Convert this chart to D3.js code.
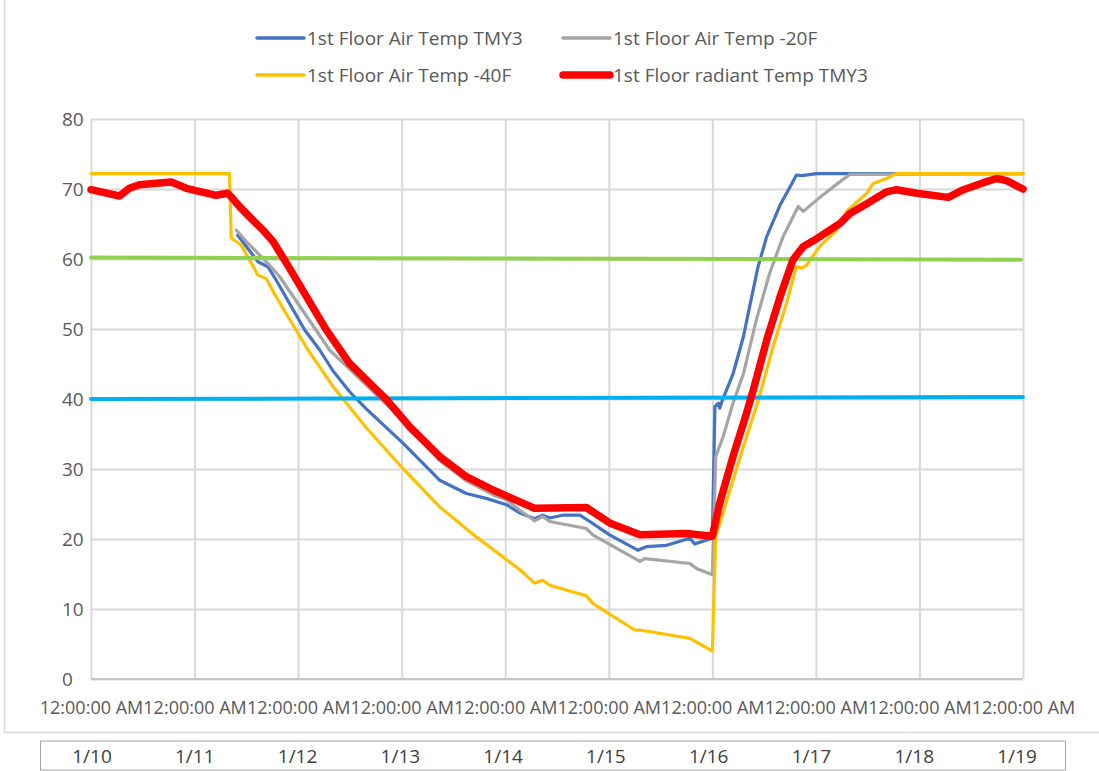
<!DOCTYPE html>
<html>
<head>
<meta charset="utf-8">
<script src="https://cdn.jsdelivr.net/npm/d3@7"></script>
<style>
  html, body { margin: 0; padding: 0; background: #fff; }
  svg { display: block; font-family: "Open Sans", "Liberation Sans", sans-serif; }
</style>
</head>
<body>
<svg id="chart" width="1099" height="771"></svg>
<script>
// ---------- data (hours since 1/10 12:00:00 AM) ----------
const dayLabels = ["1/10","1/11","1/12","1/13","1/14","1/15","1/16","1/17","1/18","1/19"];
const dayTicks = [0,24,48,72,96,120,144,168,192,216];
const timeTickLabel = "12:00:00 AM";
const yTicks = [0,10,20,30,40,50,60,70,80];

const seriesNames = ["1st Floor Air Temp TMY3","1st Floor Air Temp -20F","1st Floor Air Temp -40F","1st Floor radiant Temp TMY3"];

const airTMY3Hours = [34.0,38.7,41.0,42.9,49.5,53.0,56.1,60.0,63.8,72.3,80.8,87.0,91.6,96.3,99.4,102.8,104.7,106.3,109.3,113.3,115.6,120.2,126.7,128.7,133.4,138.8,139.9,144.0,144.6,145.4,145.7,146.5,148.8,151.2,152.3,154.6,156.6,159.7,162.0,163.5,164.7,168.2,216];
const airTMY3Temp  = [63.4,59.6,58.9,57.0,49.9,47.0,44.0,41.0,38.6,33.7,28.4,26.5,25.8,24.9,23.7,22.9,23.4,23.0,23.4,23.4,22.5,20.6,18.4,18.9,19.1,20.1,19.3,20.1,38.9,39.4,38.7,40.1,43.6,48.9,52.2,58.9,63.2,67.7,70.3,72.0,71.9,72.2,72.2];

const air20Hours = [33.7,36.0,41.4,43.7,55.3,63.8,72.3,80.8,87.0,93.2,96.3,99.4,102.8,104.7,106.3,114.8,116.3,127.2,128.4,138.8,140.3,144.0,144.8,146.5,148.8,151.2,154.2,157.3,160.4,163.9,165.1,168.9,172.0,175.9,216];
const air20Temp  = [64.1,62.5,59.1,57.5,47.0,42.0,37.0,31.2,28.3,26.3,25.6,24.1,22.6,23.2,22.5,21.5,20.6,16.8,17.2,16.5,15.8,14.9,31.8,34.6,39.4,43.6,51.3,58.0,63.2,67.5,66.8,68.8,70.3,72.1,72.2];

const air40Hours = [0,32.1,32.5,34.8,38.7,40.6,42.9,50.3,56.1,63.8,71.5,80.8,89.3,99.4,102.8,104.7,106.3,114.8,116.3,126.0,127.2,138.8,144.0,144.8,148.1,151.2,154.6,158.1,161.2,163.5,164.7,165.8,168.9,172.8,175.1,179.8,181.3,184.4,186.7,216];
const air40Temp  = [72.2,72.2,63.0,62.0,57.7,57.2,54.6,47.0,41.8,35.9,30.6,24.6,20.3,15.6,13.7,14.1,13.4,11.9,10.8,7.0,7.0,5.8,4.0,20.3,27.0,33.2,39.7,47.5,53.7,58.9,58.7,59.1,61.8,64.1,66.8,69.4,70.8,71.5,72.2,72.2];

const radHours = [0,6.6,8.9,11.2,18.6,22.1,29.0,31.7,32.9,34.4,36.8,40.2,42.2,43.7,46.0,54.5,59.9,68.5,73.9,80.8,87.0,93.2,99.4,102.8,114.8,120.2,127.2,138.0,144.0,145.7,148.8,151.9,153.5,156.6,159.7,162.7,165.1,168.2,173.6,175.9,179.8,184.4,186.7,191.4,198.7,202.2,206.8,209.9,212.2,216];
const radTemp  = [69.9,69.0,70.1,70.6,71.0,70.1,69.1,69.4,68.6,67.5,66.0,63.9,62.5,61.0,58.7,49.9,45.1,39.9,36.0,31.8,28.9,27.0,25.3,24.4,24.5,22.3,20.6,20.8,20.4,25.1,31.8,37.9,41.3,48.4,54.6,59.9,61.8,62.9,65.1,66.5,67.9,69.6,69.9,69.4,68.8,69.9,70.9,71.5,71.2,70.0];

const ref60Hours = [0,215.5];
const ref60Temp  = [60.2,59.9];
const ref40Hours = [0,216];
const ref40Temp  = [40.0,40.3];

// ---------- drawing ----------
const svg = d3.select("#chart");
const x = d3.scaleLinear().domain([0,216]).range([91, 1023]);
const y = d3.scaleLinear().domain([0,80]).range([679, 119]);
const textCol = "#595959";
const gridCol = "#D9D9D9";

// outer chart frame
svg.append("path").attr("d","M4.5,0 V732.5 H1099").attr("fill","none").attr("stroke","#D9D9D9").attr("stroke-width",1.5);

// horizontal gridlines via axis
const gy = svg.append("g").attr("transform", `translate(${x(0)},0)`)
  .call(d3.axisLeft(y).tickValues(yTicks).tickSize(-(x(216)-x(0))).tickFormat(""));
gy.select(".domain").remove();
gy.selectAll("line").attr("stroke", gridCol).attr("stroke-width", 2);

// vertical gridlines via axis
const gx = svg.append("g").attr("transform", `translate(0,${y(0)})`)
  .call(d3.axisBottom(x).tickValues(dayTicks).tickSize(-(y(0)-y(80))).tickFormat(""));
gx.select(".domain").remove();
gx.selectAll("line").attr("stroke", gridCol).attr("stroke-width", 2);

// bottom axis line
svg.append("line").attr("x1", x(0)).attr("x2", x(216)).attr("y1", y(0)).attr("y2", y(0))
  .attr("stroke", "#BFBFBF").attr("stroke-width", 1.5);

// y tick labels
const yl = svg.append("g").attr("transform", `translate(62,0)`)
  .call(d3.axisLeft(y).tickValues(yTicks).tickSize(0).tickPadding(0));
yl.select(".domain").remove();
yl.selectAll("text").attr("text-anchor","start").attr("x",0).attr("dy","0.35em")
  .attr("fill", textCol).style("font-size","19px").style("font-family",'"Open Sans", sans-serif');

// x tick labels
const xl = svg.append("g").attr("transform", `translate(0,${y(0)})`)
  .call(d3.axisBottom(x).tickValues(dayTicks).tickSize(0).tickPadding(0).tickFormat(() => timeTickLabel));
xl.select(".domain").remove();
xl.selectAll("text").attr("y", 29).attr("dy","0.35em")
  .attr("fill", textCol).style("font-size","18px").style("font-family",'"Open Sans", sans-serif');

// series
const zip = (a, b) => a.map((h, i) => [h, b[i]]);
const line = d3.line().x(d => x(d[0])).y(d => y(d[1]));

const seriesDefs = [
  { hours: airTMY3Hours, temp: airTMY3Temp, color: "#4472C4", width: 3.2 },
  { hours: air20Hours,   temp: air20Temp,   color: "#A5A5A5", width: 3.2 },
  { hours: air40Hours,   temp: air40Temp,   color: "#FFC000", width: 3.2 },
];
const refDefs = [
  { hours: ref60Hours, temp: ref60Temp, color: "#92D050", width: 4 },
  { hours: ref40Hours, temp: ref40Temp, color: "#00B0F0", width: 4 },
];
const radDef = { hours: radHours, temp: radTemp, color: "#FF0000", width: 7.5 };

function drawLine(def) {
  svg.append("path").datum(zip(def.hours, def.temp))
    .attr("d", line).attr("fill","none").attr("stroke", def.color)
    .attr("stroke-width", def.width).attr("stroke-linejoin","round").attr("stroke-linecap","round");
}
seriesDefs.forEach(drawLine);
refDefs.forEach(drawLine);
drawLine(radDef);

// legend
const legendItems = [
  { name: seriesNames[0], color: "#4472C4", width: 3.5, x: 256, y: 38 },
  { name: seriesNames[1], color: "#A5A5A5", width: 3.5, x: 562, y: 38 },
  { name: seriesNames[2], color: "#FFC000", width: 3.5, x: 256, y: 75 },
  { name: seriesNames[3], color: "#FF0000", width: 7.5, x: 562, y: 75 },
];
const lg = svg.append("g");
legendItems.forEach(it => {
  lg.append("line").attr("x1", it.x + 1).attr("x2", it.x + 48).attr("y1", it.y).attr("y2", it.y)
    .attr("stroke", it.color).attr("stroke-width", it.width).attr("stroke-linecap","round");
  lg.append("text").attr("x", it.x + 51).attr("y", it.y).attr("dy","0.35em")
    .attr("fill", textCol).style("font-size","19px").text(it.name);
});

// date table below
svg.append("rect").attr("x", 40.5).attr("y", 741).attr("width", 1025).attr("height", 29)
  .attr("fill","none").attr("stroke","#A6A6A6").attr("stroke-width",1);
const dateX = d3.scalePoint().domain(dayLabels).range([92, 1017]);
svg.append("g").selectAll("text").data(dayLabels).join("text")
  .attr("x", d => dateX(d)).attr("y", 756.5).attr("dy","0.35em").attr("text-anchor","middle")
  .attr("fill", "#404040").style("font-size","19px").text(d => d);
</script>
</body>
</html>
